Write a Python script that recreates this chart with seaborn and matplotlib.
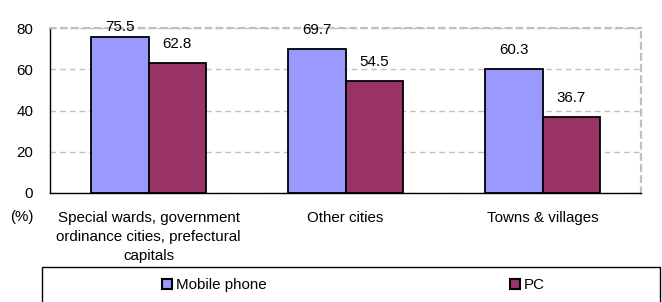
import numpy as np
import matplotlib.pyplot as plt
import pandas as pd
import seaborn as sns
from matplotlib.patches import Patch, Rectangle

areas = ['Special wards, government\nordinance cities, prefectural\ncapitals',
         'Other cities', 'Towns & villages']
devices = ['Mobile phone', 'PC']
mobile = [75.5, 69.7, 60.3]
pc = [62.8, 54.5, 36.7]
yticks = [0, 20, 40, 60, 80]
colors = ['#9999FF', '#993366']

df = pd.DataFrame({
    'area': areas * 2,
    'device': [devices[0]] * 3 + [devices[1]] * 3,
    'value': mobile + pc,
})

sns.set_style('white')
plt.rcParams['font.family'] = ['Liberation Sans', 'DejaVu Sans']
plt.rcParams['text.color'] = 'black'
plt.rcParams['xtick.color'] = 'black'
plt.rcParams['ytick.color'] = 'black'
fs = 10.9

fig = plt.figure(figsize=(6.62, 3.02), dpi=100)
ax = fig.add_axes([50/662, 1-193/302, 591/662, 165/302])

sns.barplot(data=df, x='area', y='value', hue='device', order=areas, hue_order=devices,
            palette=colors, width=0.58, edgecolor='black', linewidth=1.3,
            saturation=1, legend=False, ax=ax)

ax.set_xlim(-0.5, 2.5)
ax.set_ylim(0, 80)
ax.set_yticks(yticks)
ax.set_xlabel('')
ax.set_ylabel('')
ax.set_axisbelow(True)
ax.yaxis.grid(True, color='#C0C0C0', linestyle=(0, (4, 3)), linewidth=1)

ax.tick_params(axis='y', labelsize=fs, length=0, pad=12, labelcolor='black')
ax.tick_params(axis='x', which='major', labelsize=fs, length=0, pad=13, labelcolor='black')
ax.set_xticks([0.5, 1.5], minor=True)
ax.tick_params(axis='x', which='minor', direction='in', length=4, width=1, color='black')
for lab in ax.get_xticklabels():
    lab.set_linespacing(1.45)

for s in ['top', 'right']:
    ax.spines[s].set_color('#C0C0C0')
    ax.spines[s].set_linestyle((0, (2.5, 2.5)))
    ax.spines[s].set_linewidth(1.6)
for s in ['left', 'bottom']:
    ax.spines[s].set_color('black')
    ax.spines[s].set_linewidth(1)

for container, vals in zip(ax.containers, [mobile, pc]):
    for bar, v in zip(container, vals):
        ax.text(bar.get_x() + bar.get_width() / 2, min(v + 9.2, 80.4), f'{v}',
                ha='center', va='center', fontsize=fs, color='black', clip_on=False)

fig.text(22/662, 1-217/302, '(%)', ha='center', va='center', fontsize=fs, color='black')

fig.patches.append(Rectangle((42/662, -0.2), 618/662, 0.2 + (1-267/302),
                             transform=fig.transFigure, fill=False,
                             edgecolor='black', linewidth=1))

handles = [Patch(facecolor=c, edgecolor='black', linewidth=1.5) for c in colors]
leg = fig.legend(handles, devices, loc='center left', bbox_to_anchor=(162/662, 1-285/302),
                 ncol=2, frameon=False, fontsize=fs, borderpad=0, borderaxespad=0,
                 handlelength=0.65, handleheight=0.65, handletextpad=0.25,
                 columnspacing=16.1)
for t in leg.get_texts():
    t.set_color('black')

fig.savefig('out.png', dpi=100)
